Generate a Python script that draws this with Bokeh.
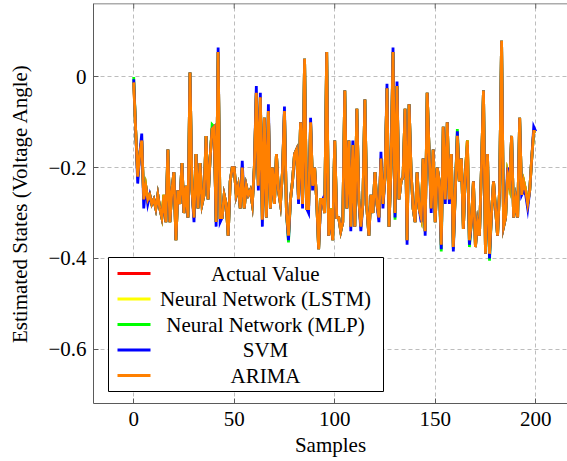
from bokeh.plotting import figure
from bokeh.models import Range1d, FixedTicker, Span
from bokeh.core.properties import value
from bokeh.embed import file_html
from bokeh.resources import INLINE

samples = list(range(0, 201))

actual = [
 -0.012, -0.12, -0.22, -0.17, -0.14, -0.27, -0.24, -0.27, -0.26, -0.28,
 -0.27, -0.29, -0.26, -0.29, -0.31, -0.26, -0.32, -0.16, -0.32, -0.25,
 -0.21, -0.36, -0.25, -0.28, -0.19, -0.30, -0.24, -0.31, 0.01, -0.25,
 -0.31, -0.17, -0.29, -0.19, -0.28, -0.26, -0.13, -0.27, -0.18, -0.115,
 -0.11, -0.32, 0.055, -0.31, -0.31, -0.26, -0.28, -0.35, -0.23, -0.20,
 -0.20, -0.26, -0.24, -0.29, -0.20, -0.29, -0.24, -0.26, -0.25, -0.28,
 -0.20, -0.035, -0.24, -0.045, -0.315, -0.09, -0.31, -0.075, -0.29, -0.20,
 -0.28, -0.17, -0.25, -0.28, -0.21, -0.075, -0.30, -0.35, -0.27, -0.23,
 -0.17, -0.16, -0.27, -0.10, -0.28, 0.04, -0.29, -0.29, -0.10, -0.24,
 -0.20, -0.27, -0.38, -0.27, -0.27, -0.30, 0.055, -0.35, -0.29, -0.36,
 -0.14, -0.31, -0.31, -0.34, -0.32, -0.03, -0.29, -0.14, -0.33, -0.15,
 -0.33, -0.07, -0.27, -0.33, -0.28, -0.05, -0.29, -0.35, -0.26, -0.30,
 -0.21, -0.28, -0.31, -0.18, -0.28, -0.22, -0.025, -0.33, -0.20, 0.055,
 -0.30, -0.02, -0.27, -0.23, -0.22, -0.07, -0.36, -0.06, -0.21, -0.29,
 -0.32, -0.21, -0.29, -0.31, -0.18, -0.34, -0.035, -0.17, -0.29, -0.16,
 -0.32, -0.20, -0.23, -0.37, -0.11, -0.27, -0.10, -0.27, -0.17, -0.375,
 -0.25, -0.13, -0.23, -0.18, -0.335, -0.21, -0.14, -0.36, -0.32, -0.23,
 -0.375, -0.32, -0.35, -0.20, -0.03, -0.39, -0.17, -0.39, -0.30, -0.23,
 -0.29, -0.35, -0.25, 0.08, -0.33, -0.31, -0.215, -0.24, -0.13, -0.31,
 -0.27, -0.31, -0.09, -0.26, -0.23, -0.25, -0.28, -0.25, -0.18, -0.12,
 -0.12]

lstm = [
 -0.012, -0.12, -0.22, -0.17, -0.14, -0.27, -0.24, -0.27, -0.26, -0.28,
 -0.27, -0.29, -0.26, -0.29, -0.31, -0.26, -0.32, -0.16, -0.32, -0.25,
 -0.21, -0.36, -0.25, -0.28, -0.19, -0.30, -0.24, -0.31, 0.01, -0.25,
 -0.31, -0.17, -0.29, -0.19, -0.28, -0.26, -0.13, -0.27, -0.18, -0.115,
 -0.11, -0.32, 0.055, -0.31, -0.31, -0.26, -0.28, -0.35, -0.23, -0.20,
 -0.20, -0.26, -0.24, -0.29, -0.20, -0.29, -0.24, -0.26, -0.25, -0.28,
 -0.20, -0.035, -0.24, -0.045, -0.315, -0.09, -0.31, -0.075, -0.29, -0.20,
 -0.28, -0.17, -0.25, -0.28, -0.21, -0.075, -0.30, -0.35, -0.27, -0.23,
 -0.17, -0.16, -0.27, -0.10, -0.28, 0.04, -0.29, -0.29, -0.10, -0.24,
 -0.20, -0.27, -0.38, -0.27, -0.27, -0.30, 0.055, -0.35, -0.29, -0.36,
 -0.14, -0.31, -0.31, -0.34, -0.32, -0.03, -0.29, -0.14, -0.33, -0.15,
 -0.33, -0.07, -0.27, -0.33, -0.28, -0.05, -0.29, -0.35, -0.26, -0.30,
 -0.21, -0.28, -0.31, -0.18, -0.28, -0.22, -0.025, -0.33, -0.20, 0.055,
 -0.30, -0.02, -0.27, -0.23, -0.22, -0.07, -0.36, -0.06, -0.21, -0.29,
 -0.32, -0.21, -0.29, -0.31, -0.18, -0.34, -0.035, -0.17, -0.29, -0.16,
 -0.32, -0.20, -0.23, -0.37, -0.11, -0.27, -0.10, -0.27, -0.17, -0.375,
 -0.25, -0.13, -0.23, -0.18, -0.335, -0.21, -0.14, -0.36, -0.32, -0.23,
 -0.375, -0.32, -0.35, -0.20, -0.03, -0.39, -0.17, -0.39, -0.30, -0.23,
 -0.29, -0.35, -0.25, 0.08, -0.33, -0.31, -0.215, -0.24, -0.13, -0.31,
 -0.27, -0.31, -0.09, -0.26, -0.23, -0.25, -0.28, -0.25, -0.18, -0.12,
 -0.12]

mlp = [
 0.0, -0.12, -0.22, -0.17, -0.14, -0.27, -0.24, -0.27, -0.26, -0.28,
 -0.27, -0.29, -0.26, -0.29, -0.31, -0.26, -0.32, -0.16, -0.32, -0.25,
 -0.21, -0.36, -0.25, -0.28, -0.19, -0.30, -0.24, -0.31, 0.01, -0.25,
 -0.31, -0.17, -0.29, -0.19, -0.28, -0.26, -0.13, -0.27, -0.18, -0.105,
 -0.11, -0.32, 0.055, -0.31, -0.31, -0.26, -0.28, -0.35, -0.23, -0.20,
 -0.20, -0.26, -0.24, -0.29, -0.20, -0.29, -0.24, -0.26, -0.25, -0.28,
 -0.20, -0.035, -0.24, -0.045, -0.315, -0.09, -0.31, -0.075, -0.29, -0.20,
 -0.28, -0.17, -0.25, -0.28, -0.21, -0.075, -0.30, -0.365, -0.27, -0.23,
 -0.17, -0.16, -0.27, -0.10, -0.28, 0.04, -0.29, -0.29, -0.10, -0.24,
 -0.20, -0.27, -0.38, -0.27, -0.27, -0.30, 0.055, -0.35, -0.29, -0.36,
 -0.14, -0.31, -0.31, -0.34, -0.32, -0.03, -0.29, -0.14, -0.33, -0.15,
 -0.33, -0.07, -0.27, -0.33, -0.28, -0.05, -0.29, -0.35, -0.26, -0.30,
 -0.21, -0.28, -0.31, -0.18, -0.28, -0.22, -0.025, -0.33, -0.20, 0.055,
 -0.315, -0.02, -0.27, -0.23, -0.22, -0.07, -0.36, -0.06, -0.21, -0.29,
 -0.32, -0.21, -0.29, -0.31, -0.18, -0.34, -0.035, -0.17, -0.29, -0.16,
 -0.32, -0.20, -0.23, -0.385, -0.11, -0.27, -0.10, -0.27, -0.17, -0.38,
 -0.25, -0.115, -0.23, -0.18, -0.335, -0.21, -0.14, -0.375, -0.32, -0.23,
 -0.375, -0.32, -0.35, -0.20, -0.03, -0.39, -0.17, -0.405, -0.30, -0.23,
 -0.29, -0.35, -0.25, 0.08, -0.33, -0.31, -0.215, -0.24, -0.13, -0.31,
 -0.27, -0.31, -0.09, -0.26, -0.23, -0.25, -0.28, -0.25, -0.18, -0.12,
 -0.12]

svm = [
 -0.005, -0.12, -0.235, -0.17, -0.125, -0.29, -0.24, -0.28, -0.26, -0.28,
 -0.27, -0.29, -0.26, -0.29, -0.31, -0.27, -0.32, -0.16, -0.32, -0.25,
 -0.21, -0.36, -0.25, -0.28, -0.19, -0.30, -0.24, -0.31, 0.01, -0.25,
 -0.32, -0.17, -0.29, -0.19, -0.28, -0.26, -0.13, -0.27, -0.18, -0.115,
 -0.11, -0.33, 0.065, -0.32, -0.31, -0.26, -0.28, -0.35, -0.23, -0.20,
 -0.20, -0.26, -0.24, -0.29, -0.185, -0.29, -0.24, -0.26, -0.25, -0.28,
 -0.20, -0.02, -0.25, -0.035, -0.33, -0.09, -0.31, -0.06, -0.29, -0.20,
 -0.28, -0.17, -0.25, -0.28, -0.21, -0.065, -0.30, -0.36, -0.27, -0.23,
 -0.17, -0.16, -0.28, -0.10, -0.29, 0.04, -0.29, -0.30, -0.09, -0.25,
 -0.20, -0.27, -0.38, -0.28, -0.27, -0.30, 0.055, -0.35, -0.30, -0.36,
 -0.14, -0.31, -0.31, -0.34, -0.32, -0.03, -0.29, -0.14, -0.34, -0.14,
 -0.33, -0.07, -0.27, -0.34, -0.28, -0.05, -0.29, -0.35, -0.26, -0.30,
 -0.21, -0.28, -0.32, -0.165, -0.29, -0.22, -0.015, -0.33, -0.20, 0.065,
 -0.31, -0.01, -0.27, -0.23, -0.22, -0.07, -0.37, -0.06, -0.21, -0.29,
 -0.32, -0.21, -0.29, -0.32, -0.18, -0.35, -0.035, -0.17, -0.30, -0.16,
 -0.32, -0.20, -0.23, -0.38, -0.11, -0.28, -0.10, -0.28, -0.17, -0.385,
 -0.25, -0.12, -0.23, -0.18, -0.335, -0.21, -0.15, -0.37, -0.32, -0.23,
 -0.375, -0.32, -0.35, -0.20, -0.03, -0.39, -0.17, -0.40, -0.30, -0.23,
 -0.29, -0.35, -0.25, 0.08, -0.33, -0.31, -0.20, -0.24, -0.13, -0.31,
 -0.27, -0.31, -0.09, -0.26, -0.25, -0.26, -0.29, -0.25, -0.18, -0.11,
 -0.12]

arima = [
 -0.012, -0.12, -0.22, -0.17, -0.14, -0.27, -0.24, -0.27, -0.26, -0.28,
 -0.27, -0.29, -0.26, -0.29, -0.31, -0.26, -0.32, -0.16, -0.32, -0.25,
 -0.21, -0.36, -0.25, -0.28, -0.19, -0.30, -0.24, -0.31, 0.01, -0.25,
 -0.31, -0.17, -0.29, -0.19, -0.28, -0.26, -0.13, -0.27, -0.18, -0.115,
 -0.11, -0.32, 0.055, -0.31, -0.31, -0.26, -0.28, -0.35, -0.23, -0.20,
 -0.20, -0.26, -0.24, -0.29, -0.20, -0.29, -0.24, -0.26, -0.25, -0.28,
 -0.20, -0.035, -0.24, -0.045, -0.315, -0.09, -0.31, -0.075, -0.29, -0.20,
 -0.28, -0.17, -0.25, -0.28, -0.21, -0.075, -0.30, -0.35, -0.27, -0.23,
 -0.17, -0.16, -0.27, -0.10, -0.28, 0.04, -0.29, -0.29, -0.10, -0.24,
 -0.20, -0.27, -0.38, -0.27, -0.27, -0.30, 0.055, -0.35, -0.29, -0.36,
 -0.14, -0.31, -0.31, -0.34, -0.32, -0.03, -0.29, -0.14, -0.33, -0.15,
 -0.33, -0.07, -0.27, -0.33, -0.28, -0.05, -0.29, -0.35, -0.26, -0.30,
 -0.21, -0.28, -0.31, -0.18, -0.28, -0.22, -0.025, -0.33, -0.20, 0.055,
 -0.30, -0.02, -0.27, -0.23, -0.22, -0.07, -0.36, -0.06, -0.21, -0.29,
 -0.32, -0.21, -0.29, -0.31, -0.18, -0.34, -0.035, -0.17, -0.29, -0.16,
 -0.32, -0.20, -0.23, -0.37, -0.11, -0.27, -0.10, -0.27, -0.17, -0.375,
 -0.25, -0.13, -0.23, -0.18, -0.335, -0.21, -0.14, -0.36, -0.32, -0.23,
 -0.375, -0.32, -0.35, -0.20, -0.03, -0.39, -0.17, -0.39, -0.30, -0.23,
 -0.29, -0.35, -0.25, 0.08, -0.33, -0.31, -0.215, -0.24, -0.13, -0.31,
 -0.27, -0.31, -0.09, -0.26, -0.23, -0.25, -0.28, -0.25, -0.18, -0.12,
 -0.12]

series_names = ["Actual Value", "Neural Network (LSTM)", "Neural Network (MLP)", "SVM", "ARIMA"]
series_colors = ["#ff0000", "#ffff00", "#00ff00", "#0000ff", "#ff8000"]
series_values = [actual, lstm, mlp, svm, arima]

x_ticks = [0, 50, 100, 150, 200]
y_ticks = [-0.6, -0.4, -0.2, 0]
y_tick_labels = {-0.6: "\u22120.6", -0.4: "\u22120.4", -0.2: "\u22120.2", 0: "0"}

FONT = "Liberation Serif"
FS = "21px"

W, H = 567, 461
FL, FT, FR, FB = 93, 3, 0, 58
X0, X1 = -20.0, 215.8
Y0, Y1 = -0.72, 0.162

p = figure(width=W, height=H, output_backend="svg", toolbar_location=None,
           x_range=Range1d(X0, X1), y_range=Range1d(Y0, Y1),
           min_border_left=FL, min_border_top=FT, min_border_right=FR, min_border_bottom=FB,
           background_fill_color="white", border_fill_color="white")
p.outline_line_color = None

fw = W - FL - FR
fh = H - FT - FB
def dx(px):
    return X0 + (px - FL) / fw * (X1 - X0)
def dy(py):
    return Y1 - (py - FT) / fh * (Y1 - Y0)

AX = "#5a5a5a"

for vals, c in zip(series_values, series_colors):
    p.line(samples, vals, line_color=c, line_width=2.8, line_join="miter")

for ax in (p.xaxis[0], p.yaxis[0]):
    ax.axis_line_color = AX
    ax.axis_line_width = 1
    ax.major_tick_line_color = AX
    ax.major_tick_in = 5
    ax.major_tick_out = 0
    ax.minor_tick_line_color = None
    ax.major_label_text_font = FONT
    ax.major_label_text_font_size = FS
    ax.major_label_text_color = "black"
    ax.axis_label_text_font = FONT
    ax.axis_label_text_font_size = FS
    ax.axis_label_text_font_style = "normal"
    ax.axis_label_text_color = "black"

p.xaxis[0].ticker = FixedTicker(ticks=x_ticks)
p.yaxis[0].ticker = FixedTicker(ticks=y_ticks)
p.yaxis[0].major_label_overrides = y_tick_labels
p.xaxis[0].axis_label = "Samples"
p.yaxis[0].axis_label = "Estimated States (Voltage Angle)"
p.xaxis[0].major_label_standoff = 8
p.xaxis[0].axis_label_standoff = 4
p.yaxis[0].major_label_standoff = 7
p.yaxis[0].axis_label_standoff = 13

p.xgrid.ticker = FixedTicker(ticks=x_ticks)
p.ygrid.ticker = FixedTicker(ticks=y_ticks)
for g in (p.xgrid[0], p.ygrid[0]):
    g.grid_line_color = "#bdbdbd"
    g.grid_line_dash = "4 3"
    g.grid_line_width = 1

# top frame line with inward ticks
p.add_layout(Span(location=Y1, dimension="width", line_color=AX, line_width=1.5))
p.segment(x0=x_ticks, x1=x_ticks, y0=[Y1] * len(x_ticks), y1=[dy(FT + 5)] * len(x_ticks),
          line_color=AX, line_width=1)

# legend (decoration), placed by pixel position converted to data space
box_l, box_r, box_t, box_b = 108, 383, 257, 391
row_y = [273 + 25.5 * k for k in range(len(series_names))]
p.quad(left=[dx(box_l)], right=[dx(box_r)], top=[dy(box_t)], bottom=[dy(box_b)],
       fill_color="white", line_color="black", line_width=1)
p.segment(x0=[dx(117)] * 5, x1=[dx(150)] * 5, y0=[dy(r) for r in row_y], y1=[dy(r) for r in row_y],
          line_color=series_colors, line_width=3)
p.text(x=[dx(265)] * 5, y=[dy(r) for r in row_y], text=series_names,
       text_font=value(FONT), text_font_size=value(FS), text_align="center",
       text_baseline="middle", text_color="black")

open("out.html", "w").write(file_html(p, INLINE))
